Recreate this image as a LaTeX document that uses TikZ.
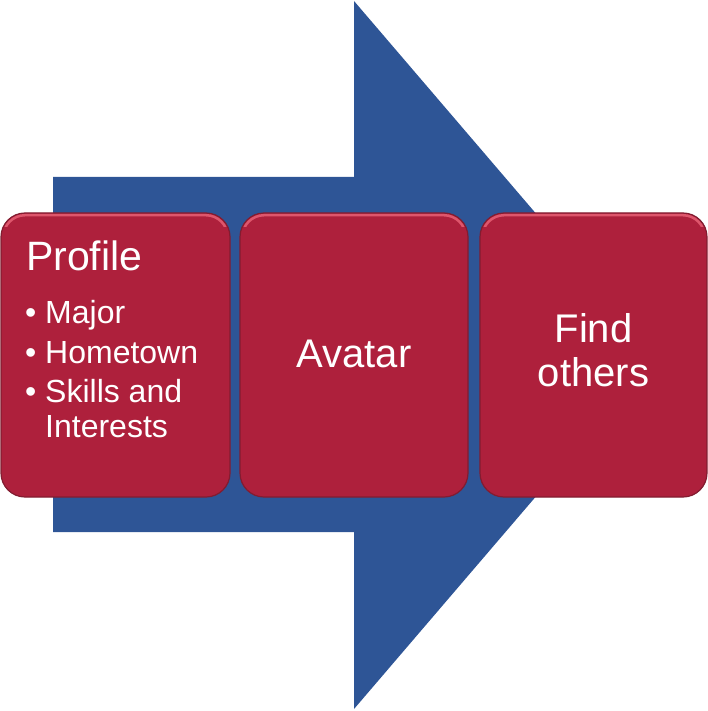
\documentclass[tikz,border=0pt]{standalone}
\usepackage{fontspec}
\setmainfont{Liberation Sans}
\definecolor{arrowblue}{RGB}{46,85,150}
\definecolor{boxred}{RGB}{174,32,60}
\definecolor{boxedge}{RGB}{130,28,48}
\definecolor{boxlight}{RGB}{222,86,108}
\tikzset{
  box/.style={draw=boxedge, line width=1.2pt, fill=boxred, rounded corners=24pt,
    minimum height=284pt, inner sep=0pt, outer sep=0pt},
  big/.style={text=white, font=\fontsize{40}{44}\selectfont, inner sep=0pt},
  small/.style={text=white, font=\fontsize{32}{35}\selectfont, inner sep=0pt, anchor=base west},
}
\begin{document}
\begin{tikzpicture}[x=1pt,y=-1pt]
\useasboundingbox (0,0) rectangle (708,711);
% big arrow
\fill[arrowblue] (53,177) -- (354,177) -- (354,1) -- (657,355) -- (354,709) -- (354,532) -- (53,532) -- cycle;
% boxes
\node[box, minimum width=229pt] (b1) at (115.5,355) {};
\node[box, minimum width=228pt] (b2) at (354,355) {};
\node[box, minimum width=227pt] (b3) at (593.5,355) {};
% top highlights
\foreach \n in {b1,b2,b3}{
  \begin{scope}
    \clip ([yshift=-1pt]\n.north west) rectangle ([yshift=-13pt]\n.north east);
    \draw[boxlight, line width=2.5pt, rounded corners=22pt]
      ([shift={(2.2pt,-2.2pt)}]\n.north west) rectangle ([shift={(-2.2pt,2.2pt)}]\n.south east);
  \end{scope}
}
% texts
\node[big, anchor=base west, font=\fontsize{41}{44}\selectfont] (t1) at (26,270) {Profile};
\node[small] (d1) at (25,323) {•};
\node[small] (m1) at (45,323) {Major};
\node[small] (d2) at (25,363) {•};
\node[small] (m2) at (45,363) {Hometown};
\node[small] (d3) at (25,402) {•};
\node[small] (m3) at (45,402) {Skills and};
\node[small] (m4) at (45,437) {Interests};
\node[big, anchor=base] (t2) at (354,367) {Avatar};
\node[big, anchor=base] (t3a) at (593.5,342) {Find};
\node[big, anchor=base] (t3b) at (593.5,386) {others};
\end{tikzpicture}
\end{document}
